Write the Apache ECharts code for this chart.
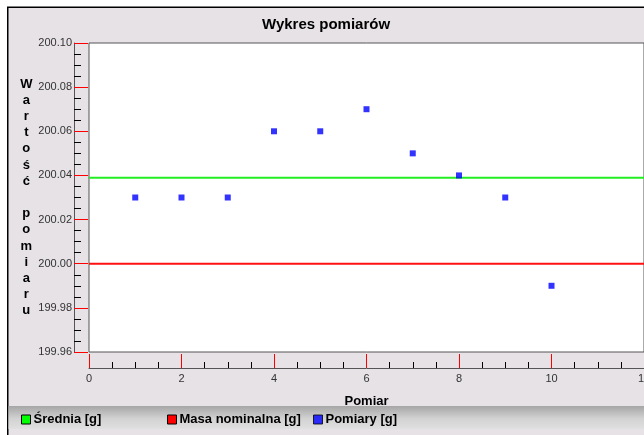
<!DOCTYPE html>
<html>
<head>
<meta charset="utf-8">
<script src="https://cdn.jsdelivr.net/npm/echarts@6/dist/echarts.min.js"></script>
<style>
  html, body { margin: 0; padding: 0; background: #ffffff; }
  #chart { width: 644px; height: 435px; }
</style>
</head>
<body>
<div id="chart"></div>
<script>
// Measurement numbers and their readings (grams)
const measurementNo = [1, 2, 3, 4, 5, 6, 7, 8, 9, 10];
const measuredMass = [200.03, 200.03, 200.03, 200.06, 200.06, 200.07, 200.05, 200.04, 200.03, 199.99];
const nominalMass = 200.00;

// Axis ranges and tick spacing
const xTicks = { min: 0, max: 12, step: 2 };
const yTicks = { min: 199.96, max: 200.10, step: 0.02 };

// Text
const chartTitle = 'Wykres pomiarów';
const xAxisTitle = 'Pomiar';
const yAxisTitle = 'Wartość pomiaru';
const seriesNames = ['Średnia [g]', 'Masa nominalna [g]', 'Pomiary [g]'];

const meanMass = measuredMass.reduce((s, v) => s + v, 0) / measuredMass.length;

const FONT = 'Liberation Sans, Arial, sans-serif';
const chart = echarts.init(document.getElementById('chart'), null, { renderer: 'canvas' });

function legendAt(name, left) {
  return {
    data: [name],
    left: left,
    top: 413,
    padding: 0,
    icon: 'rect',
    itemWidth: 9,
    itemHeight: 9,
    itemStyle: { borderColor: '#000', borderWidth: 1 },
    textStyle: { fontFamily: FONT, fontSize: 13, fontWeight: 'bold', color: '#000', padding: [0, 0, 0, -2] },
    selectedMode: false
  };
}

function fmt2(v) {
  return Number(v).toFixed(2);
}

chart.setOption({
  animation: false,
  backgroundColor: '#ffffff',
  graphic: [
    {
      type: 'rect', z: -10, silent: true,
      shape: { x: 7.75, y: 7.25, width: 700, height: 500 },
      style: { fill: '#e6e2e6', stroke: '#000', lineWidth: 1.5 }
    },
    {
      type: 'rect', z: -5, silent: true,
      shape: { x: 8.5, y: 406, width: 640, height: 23 },
      style: {
        fill: new echarts.graphic.LinearGradient(0, 0, 0, 1, [
          { offset: 0, color: '#a6a6a6' },
          { offset: 0.55, color: '#d2d2d2' },
          { offset: 1, color: '#e0e0e0' }
        ])
      }
    }
  ],
  title: {
    text: chartTitle,
    left: 262,
    top: 17,
    padding: 0,
    textStyle: { fontFamily: FONT, fontSize: 15, fontWeight: 'bold', color: '#000' }
  },
  legend: [
    legendAt(seriesNames[0], 21),
    legendAt(seriesNames[1], 167),
    legendAt(seriesNames[2], 313)
  ],
  grid: {
    left: 89,
    top: 43,
    width: 555,
    bottom: 83,
    outerBoundsMode: 'none',
    containLabel: false,
    show: true,
    backgroundColor: '#ffffff',
    borderColor: '#555555',
    borderWidth: 1
  },
  xAxis: {
    type: 'value',
    min: xTicks.min,
    max: xTicks.max,
    interval: xTicks.step,
    offset: 16,
    name: xAxisTitle,
    nameLocation: 'middle',
    nameGap: 27,
    nameTextStyle: { fontFamily: FONT, fontSize: 13, fontWeight: 'bold', color: '#000' },
    axisLine: { show: true, onZero: false, lineStyle: { color: '#555555', width: 1 } },
    axisTick: { show: true, inside: true, length: 14, interval: 0, lineStyle: { color: '#ff0000', width: 1 } },
    minorTick: { show: true, splitNumber: 4, length: 6, lineStyle: { color: '#000', width: 1 } },
    axisLabel: { margin: 5, fontFamily: FONT, fontSize: 11, color: '#333', showMaxLabel: true, hideOverlap: false },
    splitLine: { show: false },
    minorSplitLine: { show: false }
  },
  yAxis: {
    type: 'value',
    min: yTicks.min,
    max: yTicks.max,
    interval: yTicks.step,
    offset: 15,
    name: yAxisTitle.split('').join('\n'),
    nameLocation: 'middle',
    nameRotate: 0,
    nameGap: 46,
    nameTextStyle: {
      fontFamily: FONT, fontSize: 13, fontWeight: 'bold', color: '#000',
      align: 'center', verticalAlign: 'middle', lineHeight: 16.2
    },
    axisLine: { show: true, onZero: false, lineStyle: { color: '#555555', width: 1 } },
    axisTick: { show: true, inside: true, length: 14, interval: 0, lineStyle: { color: '#ff0000', width: 1 } },
    minorTick: { show: true, splitNumber: 4, length: 7, lineStyle: { color: '#000', width: 1 } },
    axisLabel: {
      margin: 2, fontFamily: FONT, fontSize: 11, color: '#333',
      formatter: fmt2
    },
    splitLine: { show: false },
    minorSplitLine: { show: false }
  },
  series: [
    {
      name: seriesNames[0],
      type: 'line',
      color: '#00ff00',
      showSymbol: false,
      lineStyle: { color: '#22ee22', width: 2 },
      data: [[xTicks.min, meanMass], [xTicks.max, meanMass]],
      z: 2
    },
    {
      name: seriesNames[1],
      type: 'line',
      color: '#ff0000',
      showSymbol: false,
      lineStyle: { color: '#ff1111', width: 2 },
      data: [[xTicks.min, nominalMass], [xTicks.max, nominalMass]],
      z: 2
    },
    {
      name: seriesNames[2],
      type: 'scatter',
      color: '#0000ff',
      symbol: 'rect',
      symbolSize: 6,
      itemStyle: { color: '#0000ff' },
      data: measurementNo.map((n, i) => [n, measuredMass[i]]),
      z: 3
    }
  ]
});
</script>
</body>
</html>
